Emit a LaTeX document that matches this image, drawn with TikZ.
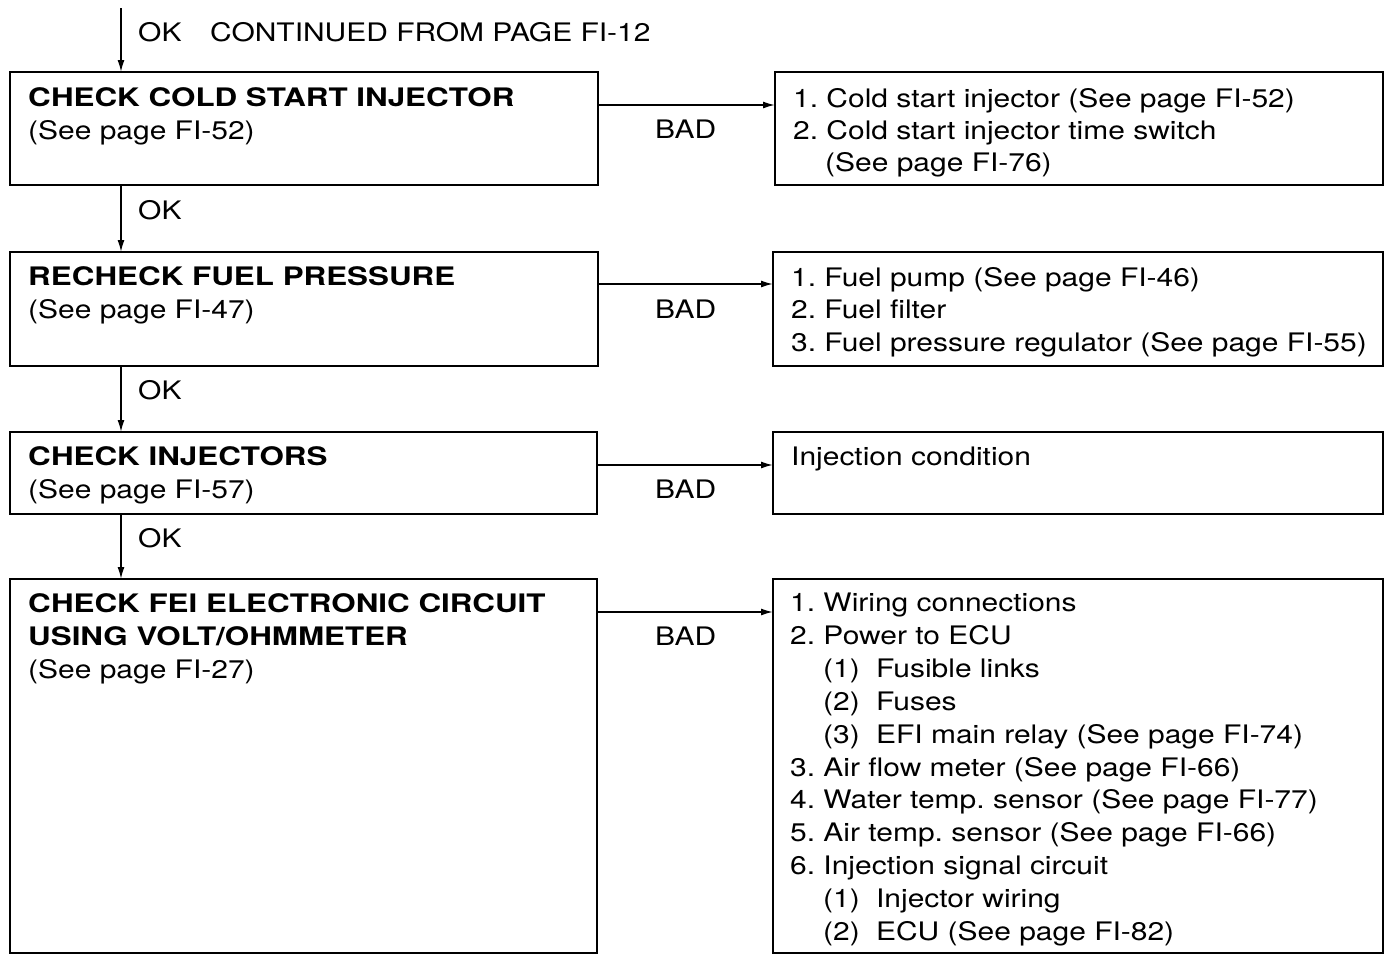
\documentclass[tikz,border=0pt]{standalone}
\usepackage{fontspec}
\setmainfont[FakeStretch=1.175, BoldFeatures={FakeStretch=1.23}]{TeX Gyre Heros}
\usetikzlibrary{arrows.meta}
\frenchspacing
\newcommand{\itm}[1]{(#1)\hspace{8pt} }
\tikzset{
  box/.style={draw, line width=2pt, inner sep=0pt, outer sep=0pt, anchor=north west},
  txt/.style={anchor=base west, inner sep=0pt, font=\fontsize{25.5}{32.9}\selectfont},
  hd/.style={anchor=base west, inner sep=0pt, font=\fontsize{25.5}{32.9}\selectfont\bfseries},
  arr/.style={line width=1.6pt, -{Latex[length=12pt,width=7pt]}},
}
\begin{document}
\begin{tikzpicture}[x=1pt,y=-1pt]
\useasboundingbox (0,0) rectangle (1389,956);
% boxes
\node[box, minimum width=588pt, minimum height=113pt] (L1) at (10,72) {};
\node[box, minimum width=608pt, minimum height=113pt] (R1) at (775,72) {};
\node[box, minimum width=588pt, minimum height=114pt] (L2) at (10,252) {};
\node[box, minimum width=610pt, minimum height=114pt] (R2) at (773,252) {};
\node[box, minimum width=587pt, minimum height=82pt] (L3) at (10,432) {};
\node[box, minimum width=610pt, minimum height=82pt] (R3) at (773,432) {};
\node[box, minimum width=587pt, minimum height=374pt] (L4) at (10,579) {};
\node[box, minimum width=610pt, minimum height=374pt] (R4) at (773,579) {};
% vertical connectors
\coordinate (top) at (121,8);
\draw[arr] (top) -- (top |- L1.north);
\draw[arr] (top |- L1.south) -- (top |- L2.north);
\draw[arr] (top |- L2.south) -- (top |- L3.north);
\draw[arr] (top |- L3.south) -- (top |- L4.north);
% horizontal connectors
\draw[arr] ([yshift=-33pt]L1.north east) -- ([yshift=-33pt]R1.north west);
\draw[arr] ([yshift=-32pt]L2.north east) -- ([yshift=-32pt]R2.north west);
\draw[arr] ([yshift=-33pt]L3.north east) -- ([yshift=-33pt]R3.north west);
\draw[arr] ([yshift=-33pt]L4.north east) -- ([yshift=-33pt]R4.north west);
% top labels
\node[txt] (ok0) at (138,41) {OK};
\node[txt] (cont) at (210,41) {CONTINUED FROM PAGE FI-12};
\node[txt] (ok1) at (138,219) {OK};
\node[txt] (ok2) at (138,399) {OK};
\node[txt] (ok3) at (138,547) {OK};
% BAD labels
\node[txt] (bad1) at (655,138) {BAD};
\node[txt] (bad2) at (655,318) {BAD};
\node[txt] (bad3) at (655,498) {BAD};
\node[txt] (bad4) at (655,645) {BAD};
% left texts
\node[hd] (l1a) at (28,106) {CHECK COLD START INJECTOR};
\node[txt] (l1b) at (28,139) {(See page FI-52)};
\node[hd] (l2a) at (28,285) {RECHECK FUEL PRESSURE};
\node[txt] (l2b) at (28,318) {(See page FI-47)};
\node[hd] (l3a) at (28,465) {CHECK INJECTORS};
\node[txt] (l3b) at (28,498) {(See page FI-57)};
\node[hd] (l4a) at (28,612) {CHECK FEI ELECTRONIC CIRCUIT};
\node[hd] (l4b) at (28,645) {USING VOLT/OHMMETER};
\node[txt] (l4c) at (28,678) {(See page FI-27)};
% right texts
\node[txt] (r1a) at (793,107) {1. Cold start injector (See page FI-52)};
\node[txt] (r1b) at (793,139) {2. Cold start injector time switch};
\node[txt] (r1c) at (825,171) {(See page FI-76)};
\node[txt] (r2a) at (791,286) {1. Fuel pump (See page FI-46)};
\node[txt] (r2b) at (791,318) {2. Fuel filter};
\node[txt] (r2c) at (791,351) {3. Fuel pressure regulator (See page FI-55)};
\node[txt] (r3a) at (791,465) {Injection condition};
\node[txt] (r4a) at (790,611) {1. Wiring connections};
\node[txt] (r4b) at (790,644) {2. Power to ECU};
\node[txt] (r4c) at (823,677) {\itm{1}Fusible links};
\node[txt] (r4d) at (823,710) {\itm{2}Fuses};
\node[txt] (r4e) at (823,743) {\itm{3}EFI main relay (See page FI-74)};
\node[txt] (r4f) at (790,776) {3. Air flow meter (See page FI-66)};
\node[txt] (r4g) at (790,808) {4. Water temp. sensor (See page FI-77)};
\node[txt] (r4h) at (790,841) {5. Air temp. sensor (See page FI-66)};
\node[txt] (r4i) at (790,874) {6. Injection signal circuit};
\node[txt] (r4j) at (823,907) {\itm{1}Injector wiring};
\node[txt] (r4k) at (823,940) {\itm{2}ECU (See page FI-82)};
\end{tikzpicture}
\end{document}
